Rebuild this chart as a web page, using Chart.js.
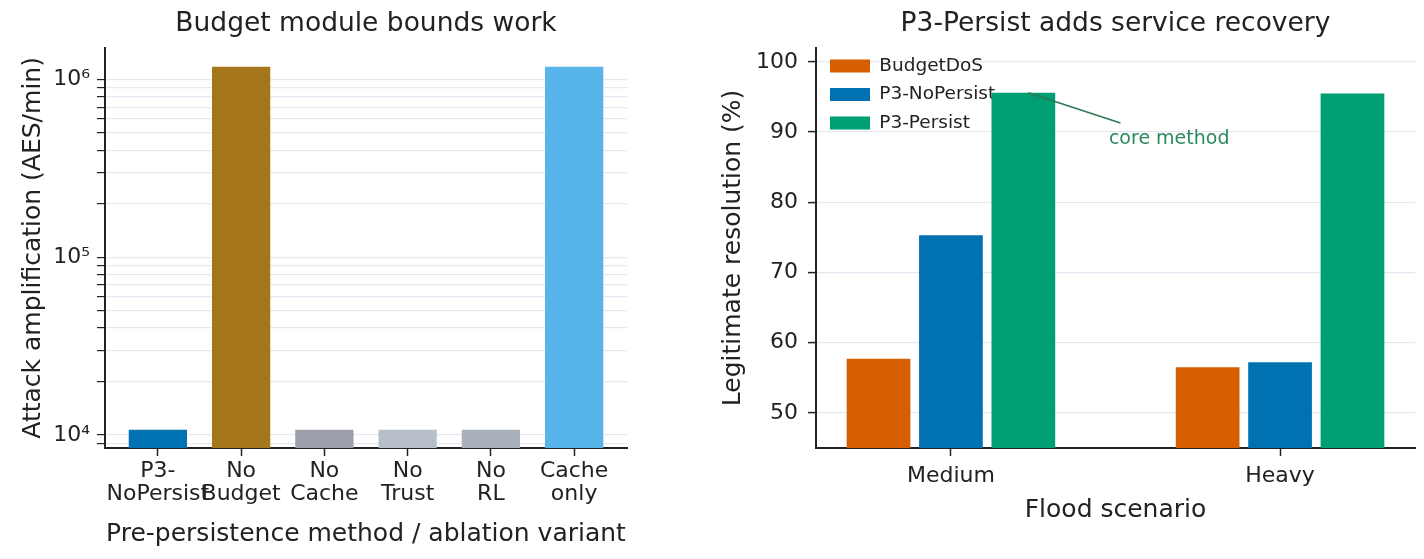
<!DOCTYPE html>
<html>
<head>
<meta charset="utf-8">
<script src="https://cdn.jsdelivr.net/npm/chart.js@4.4.1/dist/chart.umd.min.js"></script>
<style>
  body { margin: 0; background: #fff; width: 1424px; height: 559px; position: relative; overflow: hidden; }
  canvas { position: absolute; top: 0; }
  #left { left: 0; }
  #right { left: 700px; }
</style>
</head>
<body>
<canvas id="left" width="640" height="559"></canvas>
<canvas id="right" width="724" height="559"></canvas>
<script>
// left panel: ablation variants (log scale)
const variants = [['P3-', 'NoPersist'], ['No', 'Budget'], ['No', 'Cache'], ['No', 'Trust'], ['No', 'RL'], ['Cache', 'only']];
const amplification = [10700, 1180000, 10700, 10700, 10700, 1180000];
const variantColors = ['#0072B2', '#A6761D', '#9A9FA9', '#B8BEC7', '#A9B0BA', '#56B4E9'];
const logTickValues = [9000, 10000, 20000, 30000, 40000, 50000, 60000, 70000, 80000, 90000,
  100000, 200000, 300000, 400000, 500000, 600000, 700000, 800000, 900000, 1000000];
const logTickLabels = { 10000: '10⁴', 100000: '10⁵', 1000000: '10⁶' };

// right panel: flood scenarios
const scenarios = ['Medium', 'Heavy'];
const budgetDoS = [57.7, 56.5];
const p3NoPersist = [75.3, 57.2];
const p3Persist = [95.6, 95.5];
const resolutionTicks = [50, 60, 70, 80, 90, 100];

const FONT = 'DejaVu Sans';
const INK = '#222';
const GRID = 'rgba(212,217,234,0.6)';

Chart.defaults.font.family = FONT;
Chart.defaults.color = INK;
Chart.defaults.animation = false;

const toPoints = (vals) => vals.map((v, i) => ({ x: i, y: v }));

new Chart(document.getElementById('left'), {
  type: 'bar',
  data: {
    datasets: [{
      data: toPoints(amplification),
      backgroundColor: variantColors,
      borderWidth: 0,
      categoryPercentage: 1,
      barPercentage: 0.7
    }]
  },
  options: {
    responsive: false,
    layout: { padding: { top: 0, right: 13, bottom: 0, left: 0 } },
    plugins: {
      legend: { display: false },
      tooltip: { enabled: false },
      title: {
        display: true, text: 'Budget module bounds work', fullSize: false,
        font: { size: 26.5, weight: 'normal' }, color: INK, padding: { top: 8, bottom: 8 }
      }
    },
    scales: {
      x: {
        type: 'linear', min: -0.635, max: 5.635, offset: false,
        afterBuildTicks: (s) => { s.ticks = variants.map((_, i) => ({ value: i })); },
        afterFit: (s) => { s.height = 111; },
        ticks: {
          autoSkip: false, maxRotation: 0, padding: 4,
          font: { size: 22, lineHeight: 1.05 }, color: INK,
          callback: (v) => variants[v]
        },
        grid: { display: true, offset: false, drawOnChartArea: false, drawTicks: true, tickLength: 8, tickColor: INK, tickWidth: 1.5 },
        border: { display: true, color: INK, width: 2 },
        title: {
          display: true, text: 'Pre-persistence method / ablation variant',
          font: { size: 25 }, color: INK, padding: { top: 0, bottom: 10 }
        }
      },
      y: {
        type: 'logarithmic', min: 8450, max: 1510000, z: 1,
        afterBuildTicks: (s) => { s.ticks = logTickValues.map(v => ({ value: v })); },
        afterFit: (s) => { s.width = 105; },
        ticks: {
          autoSkip: false, padding: 7, font: { size: 22 }, color: INK,
          callback: (v) => logTickLabels[v] || ''
        },
        grid: { color: GRID, lineWidth: 1.2, drawTicks: true, tickLength: 8, tickColor: INK, tickWidth: 1.2 },
        border: { display: true, color: INK, width: 2 },
        title: {
          display: true, text: 'Attack amplification (AES/min)',
          font: { size: 25 }, color: INK, padding: { top: 18, bottom: 0 }
        }
      }
    }
  }
});

// legend sits inside the plot, top-left; "core method" callout uses the data scales
const insideLegend = {
  id: 'insideLegend',
  afterLayout(chart) {
    const lg = chart.legend, area = chart.chartArea;
    if (!lg) return;
    const h = lg.height;
    lg.left = area.left + 4;
    lg.top = area.top - 1;
    lg.bottom = lg.top + h;
  }
};

const callout = {
  id: 'callout',
  afterDraw(chart) {
    const { ctx, scales: { x, y } } = chart;
    const x0 = x.getPixelForValue(0.235), y0 = y.getPixelForValue(95.6);
    const x1 = x.getPixelForValue(0.515), y1 = y.getPixelForValue(91.3);
    ctx.save();
    ctx.strokeStyle = '#2d7a55';
    ctx.lineWidth = 1.6;
    ctx.beginPath();
    ctx.moveTo(x0, y0);
    ctx.lineTo(x1, y1);
    ctx.stroke();
    ctx.fillStyle = '#2a8a5e';
    ctx.font = '19px "DejaVu Sans"';
    ctx.textAlign = 'left';
    ctx.textBaseline = 'middle';
    ctx.fillText('core method', x.getPixelForValue(0.48), y.getPixelForValue(89.0));
    ctx.restore();
  }
};

const groupBar = { categoryPercentage: 0.66, barPercentage: 0.88, borderWidth: 0 };

new Chart(document.getElementById('right'), {
  type: 'bar',
  data: {
    datasets: [
      Object.assign({ label: 'BudgetDoS', data: toPoints(budgetDoS), backgroundColor: '#D55E00' }, groupBar),
      Object.assign({ label: 'P3-NoPersist', data: toPoints(p3NoPersist), backgroundColor: '#0072B2' }, groupBar),
      Object.assign({ label: 'P3-Persist', data: toPoints(p3Persist), backgroundColor: '#009E73' }, groupBar)
    ]
  },
  options: {
    responsive: false,
    layout: { padding: { top: 0, right: 9, bottom: 0, left: 0 } },
    plugins: {
      tooltip: { enabled: false },
      legend: {
        position: 'chartArea', align: 'start',
        labels: { boxWidth: 40, boxHeight: 13, padding: 10, font: { size: 18.5 }, color: INK }
      },
      title: {
        display: true, text: 'P3-Persist adds service recovery', fullSize: false,
        font: { size: 26.5, weight: 'normal' }, color: INK, padding: { top: 8, bottom: 8 }
      }
    },
    scales: {
      x: {
        type: 'linear', min: -0.41, max: 1.41, offset: false,
        afterBuildTicks: (s) => { s.ticks = scenarios.map((_, i) => ({ value: i })); },
        afterFit: (s) => { s.height = 111; },
        ticks: {
          autoSkip: false, maxRotation: 0, padding: 7,
          font: { size: 22 }, color: INK,
          callback: (v) => scenarios[v]
        },
        grid: { display: true, offset: false, drawOnChartArea: false, drawTicks: true, tickLength: 8, tickColor: INK, tickWidth: 1.5 },
        border: { display: true, color: INK, width: 2 },
        title: {
          display: true, text: 'Flood scenario',
          font: { size: 25 }, color: INK, padding: { top: 0, bottom: 34 }
        }
      },
      y: {
        type: 'linear', min: 45, max: 102, z: 1,
        afterBuildTicks: (s) => { s.ticks = resolutionTicks.map(v => ({ value: v })); },
        afterFit: (s) => { s.width = 116; },
        ticks: { autoSkip: false, padding: 10, font: { size: 22 }, color: INK },
        grid: { color: GRID, lineWidth: 1.2, drawTicks: true, tickLength: 8, tickColor: INK, tickWidth: 1.5 },
        border: { display: true, color: INK, width: 2 },
        title: {
          display: true, text: 'Legitimate resolution (%)',
          font: { size: 25 }, color: INK, padding: { top: 18, bottom: 0 }
        }
      }
    }
  },
  plugins: [insideLegend, callout]
});
</script>
</body>
</html>
